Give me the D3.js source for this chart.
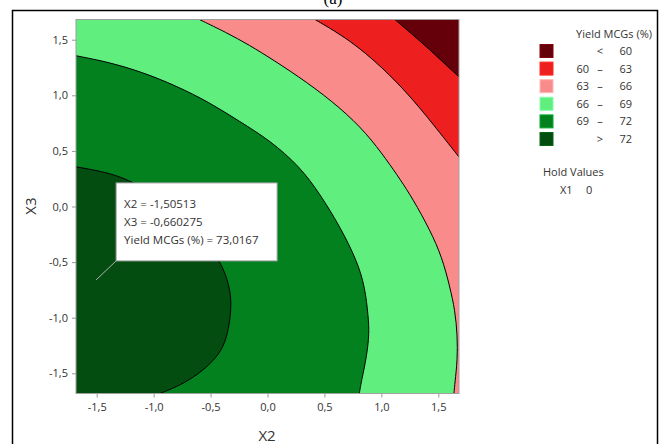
<!DOCTYPE html>
<html>
<head>
<meta charset="utf-8">
<script src="https://d3js.org/d3.v7.min.js"></script>
<style>
  body { margin: 0; background: #fff; }
  text { font-family: "Open Sans", "Noto Sans", sans-serif; fill: #333; }
</style>
</head>
<body>
<script>
// contour levels and band colours (lowest band first)
var levels = [60, 63, 66, 69, 72];
var bandLabels = [["", "<", "60"], ["60", "–", "63"], ["63", "–", "66"], ["66", "–", "69"], ["69", "–", "72"], ["", ">", "72"]];
var bandColors = ["#65000a", "#ee1f1f", "#f98b8b", "#60ef7e", "#03811f", "#044d10"];

// contour lines, [X2, X3]
var c60 = [[1.119, 1.682], [1.26, 1.557], [1.398, 1.436], [1.541, 1.298], [1.682, 1.166]];
var c63 = [[0.417, 1.682], [0.724, 1.498], [1.014, 1.246], [1.251, 0.994], [1.453, 0.742], [1.682, 0.445]];
var c66 = [[-0.599, 1.682], [-0.364, 1.566], [-0.16, 1.452], [0.051, 1.318], [0.344, 1.12], [0.637, 0.89],
           [0.871, 0.658], [1.047, 0.418], [1.163, 0.247], [1.277, 0.067], [1.427, -0.211], [1.532, -0.454],
           [1.602, -0.724], [1.646, -0.931], [1.668, -1.156], [1.668, -1.381], [1.646, -1.587], [1.637, -1.682]];
var c69 = [[-1.682, 1.356], [-1.389, 1.297], [-1.096, 1.207], [-0.804, 1.086], [-0.511, 0.937], [-0.242, 0.763],
           [0.022, 0.594], [0.285, 0.358], [0.461, 0.112], [0.637, -0.182], [0.783, -0.481], [0.856, -0.721],
           [0.885, -0.991], [0.894, -1.14], [0.871, -1.351], [0.827, -1.56], [0.806, -1.682]];
var c72 = [[-1.682, 0.357], [-1.385, 0.303], [-1.183, 0.222], [-0.813, 0.015], [-0.419, -0.452], [-0.331, -0.722],
           [-0.313, -0.902], [-0.357, -1.225], [-0.48, -1.405], [-0.709, -1.585], [-0.946, -1.682]];
var contours = [c60, c63, c66, c69, c72];

var ticks = [-1.5, -1.0, -0.5, 0.0, 0.5, 1.0, 1.5];
var axisMin = -1.68179, axisMax = 1.68179;

// hover annotation
var pointX2 = -1.50513, pointX3 = -0.660275, pointYield = 73.0167;
var holdName = "X1", holdValue = 0;

var width = 661, height = 444;
var svg = d3.select("body").append("svg").attr("width", width).attr("height", height);

// outer frame and clipped panel title
svg.append("rect").attr("x", 12.5).attr("y", 10.5).attr("width", 645).attr("height", 450)
  .attr("fill", "none").attr("stroke", "#000").attr("stroke-width", 1.5);
svg.append("text").text("(a)").attr("x", 333).attr("y", 4).attr("text-anchor", "middle")
  .style("font-family", "Liberation Serif, serif").style("font-size", "17px").style("fill", "#000");

var pLeft = 76, pRight = 459, pTop = 19.5, pBottom = 393.5;
var x = d3.scaleLinear().domain([axisMin, axisMax]).range([pLeft, pRight]);
var y = d3.scaleLinear().domain([axisMin, axisMax]).range([pBottom, pTop]);

svg.append("clipPath").attr("id", "plotclip").append("rect")
  .attr("x", pLeft).attr("y", pTop).attr("width", pRight - pLeft).attr("height", pBottom - pTop);

var plot = svg.append("g").attr("clip-path", "url(#plotclip)");
plot.append("rect").attr("x", pLeft).attr("y", pTop).attr("width", pRight - pLeft).attr("height", pBottom - pTop)
  .attr("fill", bandColors[0]);

var line = d3.line().x(function (d) { return x(d[0]); }).y(function (d) { return y(d[1]); })
  .curve(d3.curveBasis);

function near(a, b) { return Math.abs(a - b) < 0.01; }

contours.forEach(function (pts, i) {
  var first = pts[0], last = pts[pts.length - 1];
  var corners = [];
  if (near(last[0], axisMax)) corners.push([axisMax, axisMin]);
  corners.push([axisMin, axisMin]);
  if (near(first[1], axisMax)) corners.push([axisMin, axisMax]);
  var d = line(pts) + corners.map(function (c) { return "L" + x(c[0]) + "," + y(c[1]); }).join("") + "Z";
  plot.append("path").attr("d", d).attr("fill", bandColors[i + 1]);
});
contours.forEach(function (pts) {
  plot.append("path").attr("d", line(pts)).attr("fill", "none").attr("stroke", "#000").attr("stroke-width", 1);
});

svg.append("rect").attr("x", pLeft).attr("y", pTop).attr("width", pRight - pLeft).attr("height", pBottom - pTop)
  .attr("fill", "none").attr("stroke", "#a0a0a0").attr("stroke-width", 1);

var fmt = function (v) { return d3.format(".1f")(v).replace(".", ",").replace("−", "-"); };

var xAxis = svg.append("g").attr("transform", "translate(0," + pBottom + ")")
  .call(d3.axisBottom(x).tickValues(ticks).tickFormat(fmt).tickSize(4).tickSizeOuter(0));
var yAxis = svg.append("g").attr("transform", "translate(" + pLeft + ",0)")
  .call(d3.axisLeft(y).tickValues(ticks).tickFormat(fmt).tickSize(4).tickSizeOuter(0));
[xAxis, yAxis].forEach(function (g) {
  g.select(".domain").remove();
  g.selectAll(".tick line").attr("stroke", "#999");
  g.selectAll(".tick text").style("font-family", "Open Sans, sans-serif").style("font-size", "11px").attr("fill", "#333");
});
xAxis.selectAll(".tick text").attr("dy", "0.71em").attr("y", 10);
yAxis.selectAll(".tick text").attr("x", -8);

svg.append("text").text("X2").attr("x", 267).attr("y", 441).attr("text-anchor", "middle").style("font-size", "15px");
svg.append("text").text("X3").attr("transform", "translate(36,206) rotate(-90)")
  .attr("text-anchor", "middle").style("font-size", "15px");

// annotation box
var px = x(pointX2), py = y(pointX3);
var bx = px + 20, by = py - 97;
svg.append("line").attr("x1", px).attr("y1", py).attr("x2", bx).attr("y2", by + 78)
  .attr("stroke", "#b0b0b0").attr("stroke-width", 1);
svg.append("rect").attr("x", bx).attr("y", by).attr("width", 161).attr("height", 78)
  .attr("fill", "#fff").attr("stroke", "#a0a0a0").attr("stroke-width", 1);
var annot = [
  "X2 = " + String(pointX2).replace(".", ","),
  "X3 = " + String(pointX3).replace(".", ","),
  "Yield MCGs (%) = " + String(pointYield).replace(".", ",")
];
annot.forEach(function (t, i) {
  svg.append("text").text(t).attr("x", bx + 8).attr("y", by + 25 + i * 18).style("font-size", "11.5px").attr("fill", "#222");
});

// legend
var lg = svg.append("g");
lg.append("text").text("Yield MCGs (%)").attr("x", 652).attr("y", 38).attr("text-anchor", "end").style("font-size", "11px");
var order = d3.range(bandColors.length);
order.forEach(function (k, i) {
  var cy = 51 + i * 17.6;
  lg.append("rect").attr("x", 540).attr("y", cy - 6.5).attr("width", 13).attr("height", 13)
    .attr("fill", bandColors[k]).attr("stroke", d3.color(bandColors[k]).brighter(0.8)).attr("stroke-width", 1);
  var lab = bandLabels[k];
  lg.append("text").text(lab[0]).attr("x", 589).attr("y", cy + 4).attr("text-anchor", "end").style("font-size", "11px");
  lg.append("text").text(lab[1]).attr("x", 600).attr("y", cy + 4).attr("text-anchor", "middle").style("font-size", "11px");
  lg.append("text").text(lab[2]).attr("x", 632).attr("y", cy + 4).attr("text-anchor", "end").style("font-size", "11px");
});
lg.append("text").text("Hold Values").attr("x", 543).attr("y", 176).style("font-size", "11px");
lg.append("text").text(holdName).attr("x", 560).attr("y", 194).style("font-size", "11px");
lg.append("text").text(holdValue).attr("x", 586).attr("y", 194).style("font-size", "11px");
</script>
</body>
</html>
